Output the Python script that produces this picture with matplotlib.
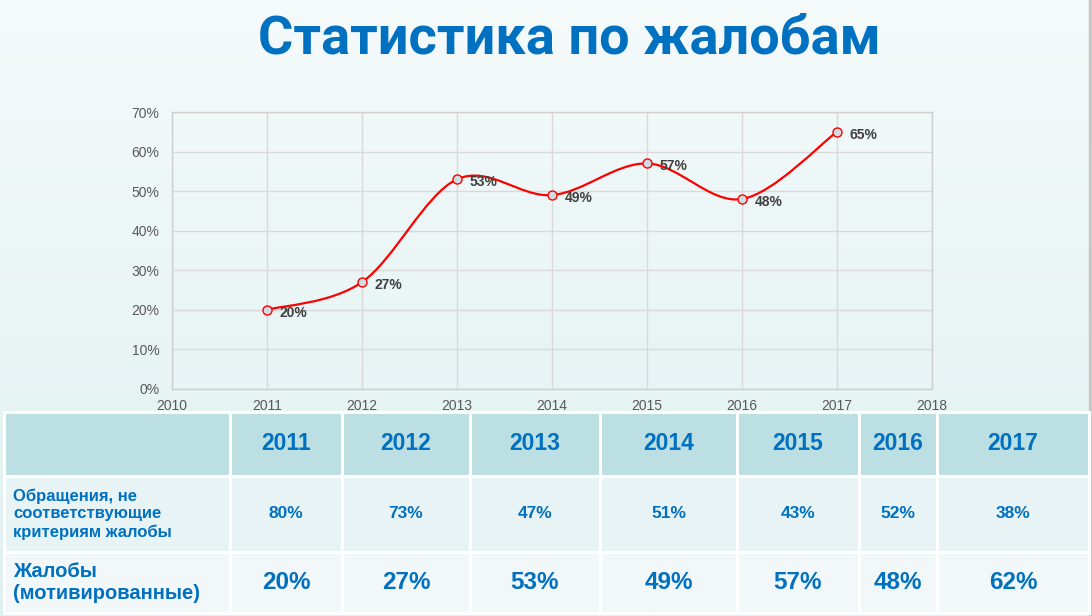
import numpy as np
import matplotlib
matplotlib.use("Agg")
import matplotlib.pyplot as plt
from matplotlib.path import Path
from matplotlib.patches import PathPatch

# ---- data ----
title = "Статистика по жалобам"
years = [2011, 2012, 2013, 2014, 2015, 2016, 2017]
complaints_pct = [20, 27, 53, 49, 57, 48, 65]          # plotted line
x_ticks = [2010, 2011, 2012, 2013, 2014, 2015, 2016, 2017, 2018]
y_ticks = [0, 10, 20, 30, 40, 50, 60, 70]

row_labels = ["Обращения, не\nсоответствующие\nкритериям жалобы",
              "Жалобы\n(мотивированные)"]
row_nonmatching = [80, 73, 47, 51, 43, 52, 38]
row_motivated = [20, 27, 53, 49, 57, 48, 62]

BLUE = "#0070C0"

plt.rcParams['font.family'] = ['Liberation Sans', 'DejaVu Sans']
fig = plt.figure(figsize=(10.92, 6.16), dpi=100)

# background gradient
bg = fig.add_axes([0, 0, 1, 1], zorder=-10)
grad = np.linspace(0, 1, 256).reshape(-1, 1)
top = np.array([0xF5, 0xFA, 0xFB]) / 255
bot = np.array([0xDF, 0xF0, 0xF0]) / 255
img = top[None, None, :] * (1 - grad[:, :, None]) + bot[None, None, :] * grad[:, :, None]
bg.imshow(img, aspect='auto', extent=[0, 1, 0, 1])
bg.axvline(0.9985, color="#C8C8C8", lw=2.5)
bg.set_xlim(0, 1); bg.set_ylim(0, 1)
bg.axis('off')

# title
fig.text(0.521, 0.937, title, ha='center', va='center', fontsize=39,
         fontweight='bold', color=BLUE, family=['Roboto', 'DejaVu Sans'])

# chart
ax = fig.add_axes([172/1092, 1 - 389/616, (932-172)/1092, (389-112)/616])
ax.set_facecolor('none')
ax.set_xlim(x_ticks[0], x_ticks[-1])
ax.set_ylim(0, 70)
ax.set_xticks(x_ticks)
ax.set_yticks(y_ticks)
ax.set_yticklabels([f"{v}%" for v in y_ticks])
ax.tick_params(length=0, labelsize=10, labelcolor="#595959")
ax.tick_params(axis='y', pad=9)
ax.tick_params(axis='x', pad=7)
ax.grid(True, color="#D9D9D9", lw=1)
ax.set_axisbelow(True)
for s in ax.spines.values():
    s.set_color("#CFCFCF"); s.set_linewidth(1)

# smooth (Bezier) line through data points
xs = np.array(years, float); ys = np.array(complaints_pct, float)
P = np.column_stack([xs, ys])
Pext = np.vstack([P[0], P, P[-1]])
verts = [tuple(P[0])]; codes = [Path.MOVETO]
for i in range(len(P) - 1):
    p0, p1, p2, p3 = Pext[i], Pext[i+1], Pext[i+2], Pext[i+3]
    c1 = p1 + (p2 - p0) / 6
    c2 = p2 - (p3 - p1) / 6
    verts += [tuple(c1), tuple(c2), tuple(p2)]
    codes += [Path.CURVE4] * 3
ax.add_patch(PathPatch(Path(verts, codes), fill=False, edgecolor="#FF0000",
                       lw=1.6, zorder=3))
ax.plot(years, complaints_pct, ls='none', marker='o', ms=6.5,
        mfc="#CFDCE2", mec="#FF0000", mew=1, zorder=4)
for x, y in zip(years, complaints_pct):
    ax.annotate(f"{y}%", (x, y), xytext=(9, -2), textcoords='offset points',
                ha='left', va='center', fontsize=10, fontweight='bold',
                color="#404040", zorder=5)

# table
tab_ax = fig.add_axes([4/1092, 1 - 613/616, (1089-4)/1092, (613-412)/616])
tab_ax.axis('off')
col_w = [226, 112, 128, 130, 137, 122, 78, 152]
row_h = [64, 76, 61]
cell_text = [[""] + [str(y) for y in years],
             [row_labels[0]] + [f"{v}%" for v in row_nonmatching],
             [row_labels[1]] + [f"{v}%" for v in row_motivated]]
row_col = ["#BBDFE2", "#E7F3F4", "#F2F8FA"]
tw = sum(col_w)
tbl = tab_ax.table(cellText=cell_text, colWidths=[w/tw for w in col_w],
                   bbox=[0, 0, 1, 1], cellLoc='center')
tbl.auto_set_font_size(False)
th = sum(row_h)
sizes = [16.5, 12.5, 17.5]
label_sizes = [15, 12, 14.5]
for (r, c), cell in tbl.get_celld().items():
    cell.set_height(row_h[r] / th)
    cell.set_facecolor(row_col[r])
    cell.set_edgecolor("white")
    cell.set_linewidth(2.2)
    t = cell.get_text()
    t.set_color(BLUE)
    t.set_fontweight('bold')
    if c == 0:
        t.set_fontsize(label_sizes[r])
        t.set_ha('left')
        cell._loc = 'left'
        cell.PAD = 0.04
        t.set_linespacing(1.22 if r == 1 else 1.22)
    else:
        t.set_fontsize(sizes[r])

fig.savefig("out.png", dpi=100)
